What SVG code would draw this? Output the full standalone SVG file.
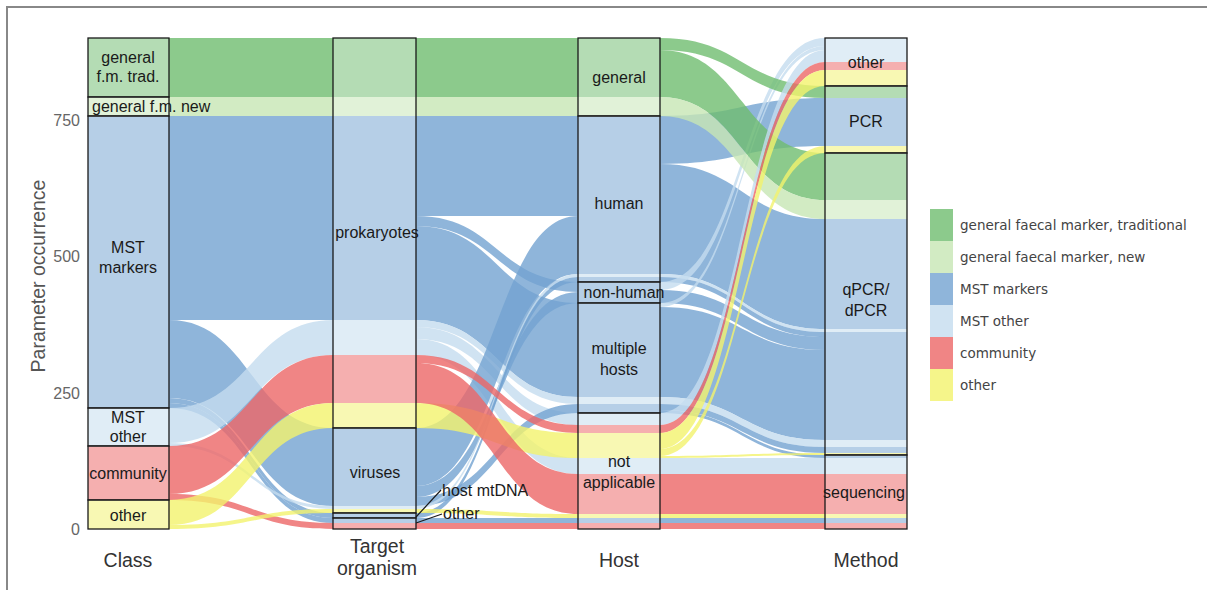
<svg xmlns="http://www.w3.org/2000/svg" width="1207" height="590" viewBox="0 0 1207 590">
<style>
.fl path,.fl rect,.lode rect,.sw rect{fill-opacity:.8;stroke:none}
.t{fill:#6fbd6f}.n{fill:#c7e6b4}.m{fill:#73a2d1}.o{fill:#c4dcef}.c{fill:#ec6666}.y{fill:#f2f26d}
.node rect{fill:#fff;fill-opacity:.35;stroke:#1a1a1a;stroke-width:1.3}
text{font-family:"Liberation Sans",Arial,sans-serif}
.lbl{font-size:16px;fill:#1a1a1a;text-anchor:middle}
.tick{font-size:16px;fill:#666;text-anchor:end}
.axt{font-size:19.5px;fill:#333;text-anchor:middle}
.leg{font-family:"DejaVu Sans",sans-serif;font-size:13.5px;fill:#444}
.thin{fill:none;stroke:#5f86ad;stroke-width:1;stroke-opacity:.7}
.lead{fill:none;stroke:#1a1a1a;stroke-width:1.2}
</style>
<rect x="0" y="0" width="1207" height="590" fill="#fff"/>
<path d="M7 590V7H1207" fill="none" stroke="#888" stroke-width="2"/>

<g id="connectors">
<g class="fl" id="class-target">
<rect class="t" x="169" y="38" width="164" height="59"/>
<rect class="n" x="169" y="97" width="164" height="19"/>
<rect class="m" x="169" y="116" width="164" height="204"/>
<path class="m" d="M169 320C251 320 251 428 333 428L333 506C251 506 251 398 169 398Z"/>
<path class="m" d="M169 398C251 398 251 513 333 513L333 518C251 518 251 403 169 403Z"/>
<path class="m" d="M169 403C251 403 251 518 333 518L333 523C251 523 251 408 169 408Z"/>
<path class="o" d="M169 408C251 408 251 320 333 320L333 355C251 355 251 443 169 443Z"/>
<path class="o" d="M169 443C251 443 251 506 333 506L333 509C251 509 251 446 169 446Z"/>
<path class="c" d="M169 446C251 446 251 355 333 355L333 403C251 403 251 494 169 494Z"/>
<path class="c" d="M169 494C251 494 251 523 333 523L333 529C251 529 251 500 169 500Z"/>
<path class="y" d="M169 500C251 500 251 403 333 403L333 428C251 428 251 525 169 525Z"/>
<path class="y" d="M169 525C251 525 251 509 333 509L333 513C251 513 251 529 169 529Z"/>
<path class="thin" d="M169 112C230 112 240 519 333 519"/>
</g>
<g class="fl" id="target-host">
<rect class="t" x="416" y="38" width="162" height="59"/>
<rect class="n" x="416" y="97" width="162" height="19"/>
<rect class="m" x="416" y="116" width="162" height="100"/>
<path class="m" d="M416 216C497 216 497 282 578 282L578 292C497 292 497 226 416 226Z"/>
<path class="m" d="M416 226C497 226 497 303 578 303L578 397C497 397 497 320 416 320Z"/>
<path class="o" d="M416 320C497 320 497 397 578 397L578 404C497 404 497 327 416 327Z"/>
<path class="o" d="M416 327C497 327 497 413 578 413L578 425C497 425 497 339 416 339Z"/>
<path class="o" d="M416 339C497 339 497 458 578 458L578 474C497 474 497 355 416 355Z"/>
<path class="m" d="M416 428C497 428 497 216 578 216L578 274C497 274 497 486 416 486Z"/>
<path class="m" d="M416 486C497 486 497 292 578 292L578 303C497 303 497 497 416 497Z"/>
<path class="m" d="M416 497C497 497 497 404 578 404L578 413C497 413 497 506 416 506Z"/>
<path class="o" d="M416 506C497 506 497 274 578 274L578 277C497 277 497 509 416 509Z"/>
<path class="m" d="M416 513C497 513 497 277 578 277L578 282C497 282 497 518 416 518Z"/>
<path class="c" d="M416 355C497 355 497 425 578 425L578 433C497 433 497 363 416 363Z"/>
<path class="y" d="M416 403C497 403 497 433 578 433L578 458C497 458 497 428 416 428Z"/>
<path class="c" d="M416 363C497 363 497 474 578 474L578 514C497 514 497 403 416 403Z"/>
<path class="y" d="M416 509C497 509 497 514 578 514L578 518C497 518 497 513 416 513Z"/>
<rect class="m" x="416" y="518" width="162" height="5"/>
<rect class="c" x="416" y="523" width="162" height="6"/>
<path class="thin" d="M416 514C497 514 497 50 578 50"/>
<path class="thin" d="M416 516C497 516 497 140 578 140"/>
</g>
<g class="fl" id="host-method">
<path class="m" d="M660 116C742 116 742 98 825 98L825 146C742 146 742 164 660 164Z"/>
<path class="m" d="M660 164C742 164 742 219 825 219L825 329C742 329 742 274 660 274Z"/>
<path class="o" d="M660 274C742 274 742 329 825 329L825 332C742 332 742 277 660 277Z"/>
<path class="m" d="M660 277C742 277 742 332 825 332L825 337C742 337 742 282 660 282Z"/>
<path class="o" d="M660 282C742 282 742 38 825 38L825 46C742 46 742 290 660 290Z"/>
<path class="m" d="M660 290C742 290 742 337 825 337L825 350C742 350 742 303 660 303Z"/>
<path class="o" d="M660 303C742 303 742 46 825 46L825 50C742 50 742 307 660 307Z"/>
<path class="m" d="M660 307C742 307 742 350 825 350L825 440C742 440 742 397 660 397Z"/>
<path class="o" d="M660 397C742 397 742 440 825 440L825 447C742 447 742 404 660 404Z"/>
<path class="m" d="M660 404C742 404 742 447 825 447L825 453C742 453 742 410 660 410Z"/>
<path class="m" d="M660 410C742 410 742 455 825 455L825 458C742 458 742 413 660 413Z"/>
<path class="thin" d="M660 340C742 340 742 455 825 455"/>
<path class="t" d="M660 38C742 38 742 86 825 86L825 98C742 98 742 50 660 50Z"/>
<path class="t" d="M660 50C742 50 742 153 825 153L825 200C742 200 742 97 660 97Z"/>
<path class="n" d="M660 97C742 97 742 200 825 200L825 219C742 219 742 116 660 116Z"/>
<path class="o" d="M660 413C742 413 742 50 825 50L825 62C742 62 742 425 660 425Z"/>
<path class="c" d="M660 425C742 425 742 62 825 62L825 70C742 70 742 433 660 433Z"/>
<path class="y" d="M660 433C742 433 742 70 825 70L825 86C742 86 742 449 660 449Z"/>
<path class="y" d="M660 449C742 449 742 146 825 146L825 153C742 153 742 456 660 456Z"/>
<path class="y" d="M660 456C742 456 742 453 825 453L825 455C742 455 742 458 660 458Z"/>
<rect class="o" x="660" y="458" width="165" height="16"/>
<rect class="c" x="660" y="474" width="165" height="40"/>
<rect class="y" x="660" y="514" width="165" height="4"/>
<rect class="m" x="660" y="518" width="165" height="5"/>
<rect class="c" x="660" y="523" width="165" height="6"/>
</g>
</g>

<g class="lode" id="lodes">
<rect class="t" x="88" y="38" width="81" height="59"/>
<rect class="n" x="88" y="97" width="81" height="19"/>
<rect class="m" x="88" y="116" width="81" height="292"/>
<rect class="o" x="88" y="408" width="81" height="38"/>
<rect class="c" x="88" y="446" width="81" height="54"/>
<rect class="y" x="88" y="500" width="81" height="29"/>

<rect class="t" x="333" y="38" width="83" height="59"/>
<rect class="n" x="333" y="97" width="83" height="19"/>
<rect class="m" x="333" y="116" width="83" height="204"/>
<rect class="o" x="333" y="320" width="83" height="35"/>
<rect class="c" x="333" y="355" width="83" height="48"/>
<rect class="y" x="333" y="403" width="83" height="25"/>
<rect class="m" x="333" y="428" width="83" height="78"/>
<rect class="o" x="333" y="506" width="83" height="3"/>
<rect class="y" x="333" y="509" width="83" height="4"/>
<rect class="m" x="333" y="513" width="83" height="10"/>
<rect class="c" x="333" y="523" width="83" height="6"/>

<rect class="t" x="578" y="38" width="82" height="59"/>
<rect class="n" x="578" y="97" width="82" height="19"/>
<rect class="m" x="578" y="116" width="82" height="158"/>
<rect class="o" x="578" y="274" width="82" height="3"/>
<rect class="m" x="578" y="277" width="82" height="120"/>
<rect class="o" x="578" y="397" width="82" height="7"/>
<rect class="m" x="578" y="404" width="82" height="9"/>
<rect class="o" x="578" y="413" width="82" height="12"/>
<rect class="c" x="578" y="425" width="82" height="8"/>
<rect class="y" x="578" y="433" width="82" height="25"/>
<rect class="o" x="578" y="458" width="82" height="16"/>
<rect class="c" x="578" y="474" width="82" height="40"/>
<rect class="y" x="578" y="514" width="82" height="4"/>
<rect class="m" x="578" y="518" width="82" height="5"/>
<rect class="c" x="578" y="523" width="82" height="6"/>

<rect class="o" x="825" y="38" width="82" height="24"/>
<rect class="c" x="825" y="62" width="82" height="8"/>
<rect class="y" x="825" y="70" width="82" height="16"/>
<rect class="t" x="825" y="86" width="82" height="12"/>
<rect class="m" x="825" y="98" width="82" height="48"/>
<rect class="y" x="825" y="146" width="82" height="7"/>
<rect class="t" x="825" y="153" width="82" height="47"/>
<rect class="n" x="825" y="200" width="82" height="19"/>
<rect class="m" x="825" y="219" width="82" height="110"/>
<rect class="o" x="825" y="329" width="82" height="3"/>
<rect class="m" x="825" y="332" width="82" height="108"/>
<rect class="o" x="825" y="440" width="82" height="7"/>
<rect class="m" x="825" y="447" width="82" height="6"/>
<rect class="y" x="825" y="453" width="82" height="2"/>
<rect class="m" x="825" y="455" width="82" height="3"/>
<rect class="o" x="825" y="458" width="82" height="16"/>
<rect class="c" x="825" y="474" width="82" height="40"/>
<rect class="y" x="825" y="514" width="82" height="4"/>
<rect class="m" x="825" y="518" width="82" height="5"/>
<rect class="c" x="825" y="523" width="82" height="6"/>
</g>

<g class="node" id="class-gen-trad"><rect x="88" y="38" width="81" height="59"/><text class="lbl" x="128" y="63">general</text><text class="lbl" x="128" y="82">f.m. trad.</text></g>
<g class="node" id="class-gen-new"><rect x="88" y="97" width="81" height="19"/><text class="lbl" x="92" y="112" style="text-anchor:start">general f.m. new</text></g>
<g class="node" id="class-mst"><rect x="88" y="116" width="81" height="292"/><text class="lbl" x="128" y="253">MST</text><text class="lbl" x="128" y="273">markers</text></g>
<g class="node" id="class-mst-other"><rect x="88" y="408" width="81" height="38"/><text class="lbl" x="128" y="423">MST</text><text class="lbl" x="128" y="442">other</text></g>
<g class="node" id="class-community"><rect x="88" y="446" width="81" height="54"/><text class="lbl" x="128" y="479">community</text></g>
<g class="node" id="class-other"><rect x="88" y="500" width="81" height="29"/><text class="lbl" x="128" y="521">other</text></g>

<g class="node" id="t-prok"><rect x="333" y="38" width="83" height="390"/><text class="lbl" x="377" y="238">prokaryotes</text></g>
<g class="node" id="t-vir"><rect x="333" y="428" width="83" height="85"/><text class="lbl" x="375" y="478">viruses</text></g>
<g class="node" id="t-mtdna"><rect x="333" y="513" width="83" height="5"/><path class="lead" d="M416 517L441 490"/><text class="lbl" x="442" y="496" style="text-anchor:start">host mtDNA</text></g>
<g class="node" id="t-other"><rect x="333" y="518" width="83" height="11"/><path class="lead" d="M416 523L442 514"/><text class="lbl" x="443" y="519" style="text-anchor:start">other</text></g>

<g class="node" id="h-general"><rect x="578" y="38" width="82" height="78"/><text class="lbl" x="619" y="83">general</text></g>
<g class="node" id="h-human"><rect x="578" y="116" width="82" height="166"/><text class="lbl" x="619" y="209">human</text></g>
<g class="node" id="h-nonhuman"><rect x="578" y="282" width="82" height="21"/><text class="lbl" x="624" y="298">non-human</text></g>
<g class="node" id="h-multiple"><rect x="578" y="303" width="82" height="110"/><text class="lbl" x="619" y="354">multiple</text><text class="lbl" x="619" y="375">hosts</text></g>
<g class="node" id="h-na"><rect x="578" y="413" width="82" height="116"/><text class="lbl" x="619" y="467">not</text><text class="lbl" x="619" y="488">applicable</text></g>

<g class="node" id="m-other"><rect x="825" y="38" width="82" height="48"/><text class="lbl" x="866" y="68">other</text></g>
<g class="node" id="m-pcr"><rect x="825" y="86" width="82" height="67"/><text class="lbl" x="866" y="127">PCR</text></g>
<g class="node" id="m-qpcr"><rect x="825" y="153" width="82" height="302"/><text class="lbl" x="866" y="295">qPCR/</text><text class="lbl" x="866" y="316">dPCR</text></g>
<g class="node" id="m-seq"><rect x="825" y="455" width="82" height="74"/><text class="lbl" x="864" y="498">sequencing</text></g>

<g id="axes">
<text class="tick" x="80" y="126">750</text>
<text class="tick" x="80" y="262">500</text>
<text class="tick" x="80" y="399">250</text>
<text class="tick" x="80" y="535">0</text>
<text class="axt" x="0" y="0" transform="translate(45,276) rotate(-90)" style="fill:#555">Parameter occurrence</text>
<text class="axt" x="128" y="567">Class</text>
<text class="axt" x="377" y="553">Target</text>
<text class="axt" x="377" y="575">organism</text>
<text class="axt" x="619" y="567">Host</text>
<text class="axt" x="866" y="567">Method</text>
</g>

<g id="legend" class="sw">
<rect class="t" x="930" y="209" width="23" height="32"/>
<rect class="n" x="930" y="241" width="23" height="32"/>
<rect class="m" x="930" y="273" width="23" height="32"/>
<rect class="o" x="930" y="305" width="23" height="32"/>
<rect class="c" x="930" y="337" width="23" height="32"/>
<rect class="y" x="930" y="369" width="23" height="32"/>
<text class="leg" x="960" y="230">general faecal marker, traditional</text>
<text class="leg" x="960" y="262">general faecal marker, new</text>
<text class="leg" x="960" y="294">MST markers</text>
<text class="leg" x="960" y="326">MST other</text>
<text class="leg" x="960" y="358">community</text>
<text class="leg" x="960" y="390">other</text>
</g>
</svg>
